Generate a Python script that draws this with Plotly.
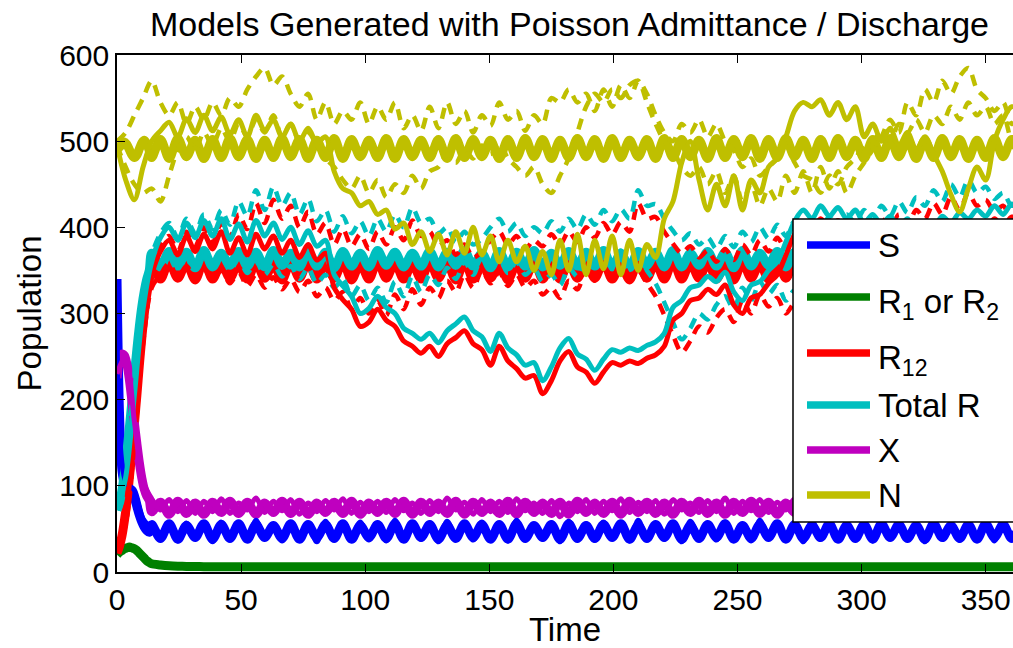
import plotly.graph_objects as go

# ---------------- time grids ----------------
STEP = 3.5
t_ode = [0, 1, 2, 3, 4, 5, 6, 7, 8, 9, 10, 11, 12, 13] + [14 + STEP * k for k in range(101)]
t_run = [STEP * k for k in range(105)]

# ---------------- deterministic (thick solid) ----------------
ode_S = [340, 185, 118, 102, 98, 96, 93, 86, 76, 66, 58, 52, 48, 46,
         55, 39, 56, 38, 54, 40, 56, 38, 55, 39,
         56, 38, 55, 40, 54, 39, 56, 38, 55, 40,
         55, 39, 56, 38, 54, 40, 55, 39, 56, 38,
         56, 40, 55, 38, 54, 39, 56, 40, 55, 38,
         55, 38, 56, 39, 54, 40, 55, 38, 56, 39,
         54, 39, 55, 40, 56, 38, 54, 39, 55, 40,
         56, 38, 54, 39, 55, 40, 56, 38, 54, 39,
         55, 40, 56, 38, 55, 39, 54, 40, 56, 38,
         54, 39, 55, 38, 56, 40, 55, 39, 54, 38,
         56, 40, 54, 39, 55, 38, 56, 40, 55, 39,
         55]
ode_R1 = [20, 23, 25, 27, 28, 29, 28, 27, 25, 22, 19, 16, 13, 11,
          9.5, 8.2, 7.3, 6.8, 6.5, 6.3, 6.2, 6.1, 6.0, 6.0,
          6, 6, 6, 6, 6, 6, 6, 6, 6, 6,
          6, 6, 6, 6, 6, 6, 6, 6, 6, 6,
          6, 6, 6, 6, 6, 6, 6, 6, 6, 6,
          6, 6, 6, 6, 6, 6, 6, 6, 6, 6,
          6, 6, 6, 6, 6, 6, 6, 6, 6, 6,
          6, 6, 6, 6, 6, 6, 6, 6, 6, 6,
          6, 6, 6, 6, 6, 6, 6, 6, 6, 6,
          6, 6, 6, 6, 6, 6, 6, 6, 6, 6,
          6, 6, 6, 6, 6, 6, 6, 6, 6, 6,
          6]
ode_R12 = [22, 30, 42, 60, 82, 110, 140, 172, 205, 240, 272, 300, 322, 338,
           358, 340, 360, 341, 359, 339, 361, 340, 358, 341,
           360, 340, 359, 341, 358, 339, 360, 341, 361, 340,
           359, 341, 360, 339, 358, 340, 361, 341, 359, 340,
           358, 340, 360, 341, 359, 339, 361, 340, 358, 341,
           360, 339, 358, 341, 361, 340, 359, 340, 360, 341,
           359, 341, 360, 340, 358, 339, 361, 341, 359, 340,
           361, 340, 359, 341, 360, 340, 358, 339, 360, 341,
           358, 340, 361, 341, 359, 340, 360, 339, 361, 340,
           360, 341, 358, 340, 361, 339, 359, 341, 358, 340,
           359, 340, 361, 341, 358, 340, 360, 341, 359, 339,
           359]
ode_TR = [72, 80, 95, 115, 140, 168, 198, 228, 258, 285, 308, 326, 340, 350,
          370, 354, 372, 355, 371, 353, 373, 354, 370, 356,
          372, 355, 371, 354, 373, 356, 370, 354, 372, 355,
          371, 353, 372, 355, 370, 354, 373, 356, 371, 354,
          370, 355, 372, 354, 371, 356, 373, 355, 370, 353,
          372, 354, 371, 355, 373, 354, 370, 356, 372, 355,
          371, 355, 373, 354, 370, 353, 372, 356, 371, 354,
          373, 354, 370, 356, 372, 355, 371, 353, 373, 355,
          370, 356, 372, 354, 371, 355, 373, 354, 370, 356,
          372, 353, 371, 355, 370, 354, 372, 356, 373, 355,
          371, 354, 370, 355, 372, 356, 371, 354, 373, 355,
          371]
ode_X = [225, 246, 253, 251, 241, 223, 199, 173, 149, 127, 109, 96, 88, 83,
         70, 81, 67, 82, 68, 80, 67, 81, 69, 82,
         68, 81, 67, 80, 69, 82, 68, 81, 67, 80,
         69, 81, 68, 82, 67, 80, 69, 81, 68, 82,
         67, 81, 69, 80, 68, 82, 67, 81, 69, 80,
         68, 82, 67, 81, 69, 80, 68, 81, 67, 82,
         69, 80, 68, 81, 67, 82, 69, 81, 68, 80,
         67, 81, 69, 82, 68, 80, 67, 81, 69, 82,
         68, 81, 67, 80, 69, 82, 68, 81, 67, 80,
         69, 81, 68, 82, 67, 80, 69, 81, 68, 82,
         67, 81, 69, 80, 68, 82, 67, 81, 69, 80,
         68]
ode_N = [490, 493, 497, 499, 496, 490, 484, 481, 484, 491, 498, 501, 497, 489,
         481, 502, 480, 503, 482, 501, 480, 502, 481, 503,
         482, 502, 480, 501, 481, 503, 482, 502, 480, 501,
         481, 503, 480, 502, 482, 501, 481, 503, 480, 502,
         482, 501, 481, 502, 480, 503, 481, 502, 482, 501,
         480, 502, 481, 503, 482, 502, 480, 501, 481, 503,
         482, 502, 480, 503, 481, 501, 482, 502, 480, 503,
         481, 502, 482, 501, 480, 503, 481, 502, 482, 503,
         480, 502, 481, 503, 482, 501, 480, 502, 481, 503,
         482, 501, 480, 502, 481, 503, 482, 502, 480, 501,
         481, 503, 482, 502, 480, 501, 481, 503, 482, 502,
         481]

# ---------------- stochastic run A (thin solid) ----------------
runA_S = [340, 105, 95, 62, 50, 38, 55, 36, 57, 40,
          54, 35, 58, 41, 56, 37, 60, 39, 55, 36,
          57, 40, 54, 35, 59, 38, 56, 41, 58, 37,
          55, 36, 60, 40, 54, 38, 57, 35, 59, 41,
          56, 37, 58, 39, 55, 36, 60, 40, 54, 38,
          57, 35, 59, 41, 56, 37, 58, 39, 55, 36,
          60, 40, 54, 38, 57, 35, 59, 41, 56, 37,
          58, 39, 55, 36, 60, 40, 54, 38, 57, 35,
          59, 41, 56, 37, 58, 39, 55, 36, 60, 40,
          54, 38, 57, 35, 59, 41, 56, 37, 58, 39,
          55, 36, 60, 40, 54]
runA_X = [230, 250, 175, 105, 85, 72, 84, 70, 83, 68,
          82, 70, 85, 68, 80, 72, 86, 69, 82, 71,
          84, 67, 80, 70, 83, 72, 85, 68, 81, 70,
          82, 69, 84, 71, 80, 68, 83, 70, 86, 72,
          81, 67, 84, 70, 82, 69, 85, 71, 80, 68,
          83, 64, 80, 70, 84, 68, 82, 71, 85, 69,
          81, 70, 83, 67, 84, 72, 80, 69, 83, 70,
          86, 68, 82, 71, 84, 69, 81, 72, 85, 70,
          82, 68, 84, 71, 80, 69, 83, 70, 85, 72,
          81, 69, 84, 70, 82, 68, 86, 71, 80, 69,
          83, 70, 84, 68, 82]
runA_R12 = [22, 65, 170, 285, 345, 372, 385, 368, 390, 372,
            392, 375, 395, 370, 388, 368, 392, 375, 390, 370,
            385, 365, 380, 362, 370, 330, 316, 305, 285, 290,
            305, 292, 285, 268, 262, 254, 262, 250, 265, 272,
            280, 265, 258, 240, 262, 245, 236, 225, 228, 207,
            222, 245, 256, 238, 232, 219, 232, 243, 240, 245,
            242, 248, 252, 262, 292, 300, 315, 318, 328, 322,
            333, 310, 300, 318, 322, 335, 345, 368, 392, 405,
            395, 410, 398, 408, 395, 405, 390, 400, 388, 398,
            385, 395, 380, 392, 385, 398, 390, 402, 395, 405,
            398, 410, 400, 412, 405]
runA_TR = [72, 110, 205, 305, 360, 388, 400, 385, 405, 388,
           408, 390, 410, 386, 404, 383, 408, 390, 405, 386,
           400, 380, 396, 378, 385, 345, 332, 320, 300, 306,
           320, 307, 300, 283, 277, 270, 277, 266, 280, 288,
           296, 280, 273, 256, 277, 260, 252, 240, 243, 222,
           238, 260, 271, 253, 247, 234, 247, 258, 255, 260,
           257, 263, 267, 277, 307, 315, 330, 333, 343, 337,
           348, 325, 315, 333, 337, 350, 360, 383, 407, 420,
           410, 425, 413, 423, 410, 420, 405, 415, 403, 413,
           400, 410, 395, 407, 400, 413, 405, 417, 410, 420,
           413, 425, 415, 427, 420]
runA_N = [495, 455, 432, 470, 500, 512, 522, 505, 526, 510,
          530, 512, 528, 508, 525, 505, 530, 512, 525, 505,
          520, 500, 515, 498, 505, 465, 445, 440, 425, 430,
          415, 420, 398, 405, 380, 395, 372, 392, 368, 395,
          370, 400, 368, 390, 360, 385, 360, 378, 350, 372,
          345, 385, 350, 392, 345, 385, 352, 390, 345, 385,
          350, 380, 365, 410, 430, 475, 500, 455, 420, 450,
          425, 460, 420, 455, 440, 470, 480, 505, 535, 545,
          540, 548, 530, 545, 525, 540, 505, 520, 500, 515,
          495, 510, 490, 505, 485, 465, 438, 418, 445, 470,
          455, 500, 525, 540, 535]

# ---------------- stochastic run B (dashed, upper) ----------------
runB_R12 = [22, 75, 190, 300, 352, 378, 390, 372, 395, 378,
            400, 382, 405, 388, 415, 398, 428, 405, 432, 410,
            425, 400, 418, 392, 405, 380, 398, 378, 392, 375,
            395, 380, 400, 385, 408, 390, 395, 378, 385, 368,
            380, 365, 372, 385, 395, 380, 390, 375, 385, 378,
            392, 380, 395, 383, 400, 388, 405, 392, 406, 395,
            428, 410, 412, 395, 381, 370, 378, 365, 373, 360,
            375, 362, 380, 368, 385, 372, 388, 375, 392, 380,
            395, 382, 398, 385, 400, 390, 405, 392, 410, 398,
            415, 402, 420, 410, 428, 415, 435, 420, 440, 425,
            432, 418, 425, 410, 420]
runB_TR = [72, 120, 230, 320, 368, 393, 405, 388, 410, 393,
           415, 398, 420, 403, 430, 413, 443, 420, 447, 425,
           440, 415, 433, 407, 420, 395, 413, 393, 407, 390,
           410, 395, 415, 400, 423, 405, 410, 393, 400, 383,
           395, 380, 387, 400, 410, 395, 405, 390, 400, 393,
           407, 395, 410, 398, 415, 403, 420, 407, 421, 410,
           443, 425, 427, 410, 396, 385, 393, 380, 388, 375,
           390, 377, 395, 383, 400, 387, 403, 390, 407, 395,
           410, 397, 413, 400, 415, 405, 420, 407, 425, 413,
           430, 417, 435, 425, 443, 430, 450, 435, 455, 440,
           447, 433, 440, 425, 435]
runB_N = [500, 510, 530, 550, 570, 545, 530, 545, 520, 540,
          525, 545, 530, 550, 540, 560, 575, 585, 565, 575,
          555, 540, 555, 525, 545, 520, 535, 525, 545, 520,
          540, 525, 545, 515, 530, 512, 540, 515, 545, 520,
          535, 510, 530, 518, 545, 525, 535, 512, 530, 520,
          550, 545, 560, 545, 555, 535, 560, 540, 565, 550,
          570, 545, 520, 500, 490, 470, 460, 470, 450, 465,
          440, 460, 430, 450, 425, 445, 430, 460, 440, 465,
          440, 470, 445, 465, 440, 460, 475, 490, 505, 525,
          510, 545, 530, 560, 545, 570, 555, 575, 585, 560,
          550, 535, 545, 520, 530]

# ---------------- stochastic run C (dashed, lower) ----------------
runC_R12 = [22, 55, 150, 265, 330, 345, 358, 342, 355, 340,
            352, 338, 350, 335, 348, 332, 345, 330, 342, 328,
            340, 325, 338, 320, 330, 315, 325, 305, 318, 300,
            315, 298, 322, 305, 328, 310, 330, 318, 338, 325,
            345, 330, 350, 335, 348, 332, 345, 330, 338, 322,
            330, 318, 338, 328, 350, 338, 355, 342, 358, 345,
            350, 335, 320, 298, 275, 255, 268, 285, 278, 295,
            305, 290, 315, 300, 322, 308, 318, 300, 312, 295,
            308, 290, 312, 298, 320, 305, 328, 312, 335, 320,
            342, 328, 348, 335, 352, 338, 355, 340, 358, 345,
            355, 342, 350, 338, 348]
runC_TR = [72, 100, 190, 285, 345, 360, 373, 357, 370, 355,
           367, 353, 365, 350, 363, 347, 360, 345, 357, 343,
           355, 340, 353, 335, 345, 330, 340, 320, 333, 315,
           330, 313, 337, 320, 343, 325, 345, 333, 353, 340,
           360, 345, 365, 350, 363, 347, 360, 345, 353, 337,
           345, 333, 353, 343, 365, 353, 370, 357, 373, 360,
           365, 350, 335, 313, 290, 270, 283, 300, 293, 310,
           320, 305, 330, 315, 337, 323, 333, 315, 327, 310,
           323, 305, 327, 313, 335, 320, 343, 327, 350, 335,
           357, 343, 363, 350, 367, 353, 370, 355, 373, 360,
           370, 357, 365, 353, 363]
runC_N = [495, 470, 450, 440, 445, 430, 460, 490, 505, 490,
          510, 495, 515, 500, 520, 505, 525, 510, 530, 505,
          520, 500, 510, 495, 480, 470, 455, 445, 460, 440,
          455, 435, 450, 440, 460, 445, 465, 470, 485, 475,
          490, 480, 495, 485, 498, 480, 470, 460, 470, 450,
          440, 460, 480, 510, 540, 555, 545, 560, 550, 565,
          570, 555, 530, 510, 500, 520, 510, 525, 505, 520,
          500, 490, 470, 480, 460, 470, 480, 495, 475, 460,
          455, 440, 460, 450, 470, 480, 495, 500, 510, 500,
          520, 510, 525, 510, 530, 520, 540, 525, 545, 530,
          540, 520, 530, 500, 490]

legend_labels = ["S", "R<sub>1</sub> or R<sub>2</sub>", "R<sub>12</sub>", "Total R", "X", "N"]
x_ticks = [0, 50, 100, 150, 200, 250, 300, 350]
y_ticks = [0, 100, 200, 300, 400, 500, 600]

for arr in (ode_S, ode_R1, ode_R12, ode_TR, ode_X, ode_N):
    assert len(arr) == len(t_ode), len(arr)
for arr in (runA_S, runA_X, runA_R12, runA_TR, runA_N, runB_R12, runB_TR, runB_N,
            runC_R12, runC_TR, runC_N):
    assert len(arr) == len(t_run), len(arr)

# ---------------- styling ----------------
BLUE, GREEN, RED, CYAN, MAG, YEL = "#0000FF", "#008000", "#FF0000", "#00BFBF", "#BF00BF", "#BFBF00"
colors = [BLUE, GREEN, RED, CYAN, MAG, YEL]
FONT = "Liberation Sans, Arial, Helvetica, sans-serif"
W, H = 1013, 648
ML, MR, MT, MB = 117, 0, 55, 76
PW, PH = W - ML - MR, H - MT - MB

fig = go.Figure()

def add(x, y, color, width, dash="solid"):
    fig.add_trace(go.Scatter(x=x, y=y, mode="lines", showlegend=False, hoverinfo="skip",
                             line=dict(color=color, width=width, dash=dash, shape="spline", smoothing=0.9)))

ode = [ode_S, ode_R1, ode_R12, ode_TR, ode_X, ode_N]
for arr, c in zip(ode, colors):
    add(t_ode, arr, c, 9)

DASH = "11px,8px"
for arr, c in ((runC_R12, RED), (runC_TR, CYAN), (runC_N, YEL)):
    add(t_run, arr, c, 4.5, DASH)
for arr, c in ((runB_R12, RED), (runB_TR, CYAN), (runB_N, YEL)):
    add(t_run, arr, c, 4.5, DASH)
for arr, c in ((runA_S, BLUE), (runA_R12, RED), (runA_TR, CYAN), (runA_X, MAG), (runA_N, YEL)):
    add(t_run, arr, c, 5)

# ---------------- manual legend ----------------
def px(xp):
    return (xp - ML) / PW

def py(yp):
    return (MT + PH - yp) / PH

shapes = [dict(type="rect", xref="paper", yref="paper", x0=px(793), x1=px(1030), y0=py(522), y1=py(219),
               fillcolor="white", line=dict(color="black", width=1.5), layer="above")]
row_y = [245, 297, 353, 405, 450, 495]
text_dy = [0, 7, 7, 0, 0, 0]
annotations = []
for lbl, c, yy, dy in zip(legend_labels, colors, row_y, text_dy):
    shapes.append(dict(type="line", xref="paper", yref="paper", x0=px(807), x1=px(870), y0=py(yy), y1=py(yy),
                       line=dict(color=c, width=7.5), layer="above"))
    annotations.append(dict(text=lbl, xref="paper", yref="paper", x=px(876), y=py(yy + dy), xanchor="left",
                            yanchor="middle", showarrow=False, font=dict(family=FONT, size=33, color="black")))

fig.update_layout(
    width=W, height=H, margin=dict(l=ML, r=MR, t=MT, b=MB, pad=0, autoexpand=False),
    paper_bgcolor="white", plot_bgcolor="white",
    font=dict(family=FONT, color="black"),
    title=dict(text="Models Generated with Poisson Admittance / Discharge", x=0.505, xref="paper",
               y=1 - 24 / H, yref="container", yanchor="middle", font=dict(size=34, family=FONT)),
    xaxis=dict(range=[0, 361], tickvals=x_ticks, ticks="inside", ticklen=8, tickwidth=1.2, tickcolor="black",
               showline=True, linecolor="black", linewidth=1.5, mirror="ticks", showgrid=False, zeroline=False,
               automargin=False, tickfont=dict(size=30), title=dict(text="Time", font=dict(size=33), standoff=0)),
    yaxis=dict(range=[0, 600], tickvals=y_ticks, ticks="inside", ticklen=8, tickwidth=1.2, tickcolor="black",
               showline=True, linecolor="black", linewidth=1.5, mirror=False, showgrid=False, zeroline=False,
               automargin=False, tickfont=dict(size=30), title=dict(text="Population", font=dict(size=33), standoff=8)),
    shapes=shapes, annotations=annotations,
)

fig.write_html("out.html", config={"displayModeBar": False},
               post_script="document.body.style.margin='0';document.body.style.overflow='hidden';")
